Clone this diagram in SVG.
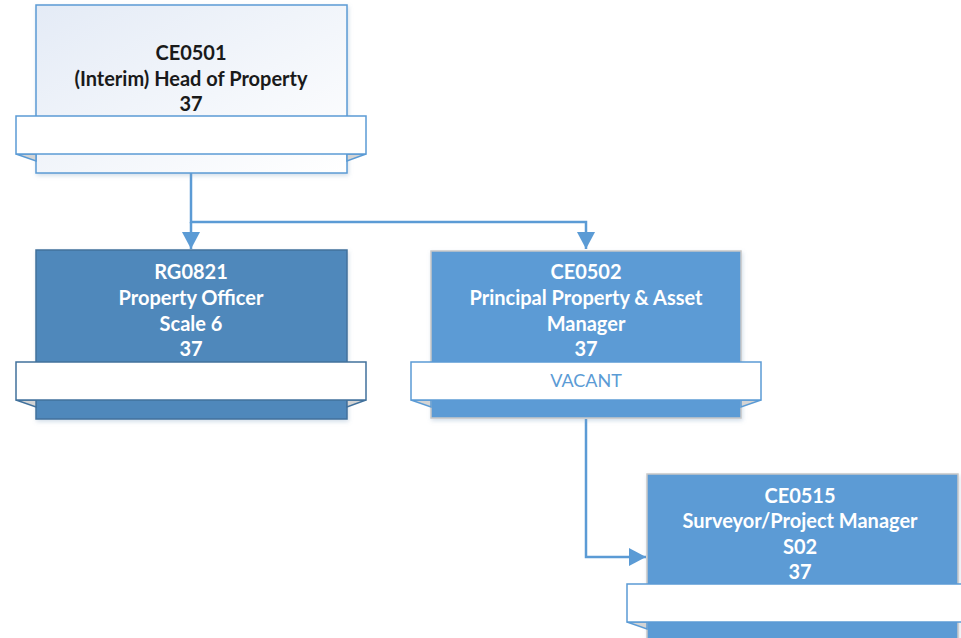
<svg xmlns="http://www.w3.org/2000/svg" width="961" height="638" viewBox="0 0 961 638">
<defs>
<linearGradient id="g1" x1="0" y1="0" x2="1" y2="1">
<stop offset="0" stop-color="#e4ebf6"/>
<stop offset="1" stop-color="#ffffff"/>
</linearGradient>
<filter id="sh" x="-10%" y="-10%" width="120%" height="120%">
<feDropShadow dx="1" dy="2" stdDeviation="2" flood-color="#7f9fc0" flood-opacity="0.35"/>
</filter>
<marker id="ah" markerWidth="18" markerHeight="18" refX="17" refY="9" orient="auto" markerUnits="userSpaceOnUse">
<path d="M0,0 L17,9 L0,18 Z" fill="#5b9bd5"/>
</marker>
</defs>
<style>
.t{font-family:Lato,"Open Sans","Liberation Sans",sans-serif;font-weight:bold;font-size:20px;text-anchor:middle}
.w{fill:#ffffff}
.k{fill:#1a1a1a}
.ban{fill:#ffffff;stroke-width:1.5}
.fold{fill:#d4d4d4;stroke-width:1.5}
.c{fill:none;stroke:#5b9bd5;stroke-width:2.5}
</style>
<g id="connectors">
<path class="c" d="M191,173 V222 H586 V249" marker-end="url(#ah)"/>
<path class="c" d="M191,222 V249" marker-end="url(#ah)"/>
<path class="c" d="M586,419 V557 H646" marker-end="url(#ah)"/>
</g>
<g id="ce0501">
<rect x="36" y="5" width="311" height="168" fill="url(#g1)" stroke="#5b9bd5" stroke-width="1.5" filter="url(#sh)"/>
<path class="fold" d="M16,154 L36,161 L36,154 Z" stroke="#5b9bd5"/>
<path class="fold" d="M366,154 L347,161 L347,154 Z" stroke="#5b9bd5"/>
<rect class="ban" x="16" y="116" width="350" height="38" stroke="#5b9bd5"/>
<text class="t k" x="191" y="60">CE0501</text>
<text class="t k" x="191" y="86">(Interim) Head of Property</text>
<text class="t k" x="191" y="111">37</text>
</g>
<g id="rg0821">
<rect x="36" y="250" width="311" height="169" fill="#4f88bb" stroke="#41719c" stroke-width="1.5" filter="url(#sh)"/>
<path class="fold" d="M16,400 L36,407 L36,400 Z" stroke="#41719c"/>
<path class="fold" d="M366,400 L347,407 L347,400 Z" stroke="#41719c"/>
<rect class="ban" x="16" y="362" width="350" height="38" stroke="#41719c"/>
<text class="t w" x="191" y="279">RG0821</text>
<text class="t w" x="191" y="305">Property Officer</text>
<text class="t w" x="191" y="331">Scale 6</text>
<text class="t w" x="191" y="356">37</text>
</g>
<g id="ce0502">
<rect x="431" y="251" width="310" height="167" fill="#5b9bd5" stroke="#c8c8c8" stroke-width="1.5" filter="url(#sh)"/>
<path class="fold" d="M411,400 L431,407 L431,400 Z" stroke="#5b9bd5"/>
<path class="fold" d="M761,400 L741,407 L741,400 Z" stroke="#5b9bd5"/>
<rect class="ban" x="411" y="362" width="350" height="38" stroke="#5b9bd5"/>
<text class="t w" x="586" y="279">CE0502</text>
<text class="t w" x="586" y="305">Principal Property &amp; Asset</text>
<text class="t w" x="586" y="331">Manager</text>
<text class="t w" x="586" y="356">37</text>
<text x="586" y="387" font-family="Lato,'Open Sans','Liberation Sans',sans-serif" font-size="18" text-anchor="middle" fill="#5b9bd5">VACANT</text>
</g>
<g id="ce0515">
<rect x="647" y="474" width="311" height="170" fill="#5b9bd5" stroke="#c8c8c8" stroke-width="1.5" filter="url(#sh)"/>
<path class="fold" d="M627,622 L647,629 L647,622 Z" stroke="#5b9bd5"/>
<rect class="ban" x="627" y="584" width="350" height="38" stroke="#5b9bd5"/>
<text class="t w" x="800" y="503">CE0515</text>
<text class="t w" x="800" y="528">Surveyor/Project Manager</text>
<text class="t w" x="800" y="554">S02</text>
<text class="t w" x="800" y="579">37</text>
</g>
</svg>
